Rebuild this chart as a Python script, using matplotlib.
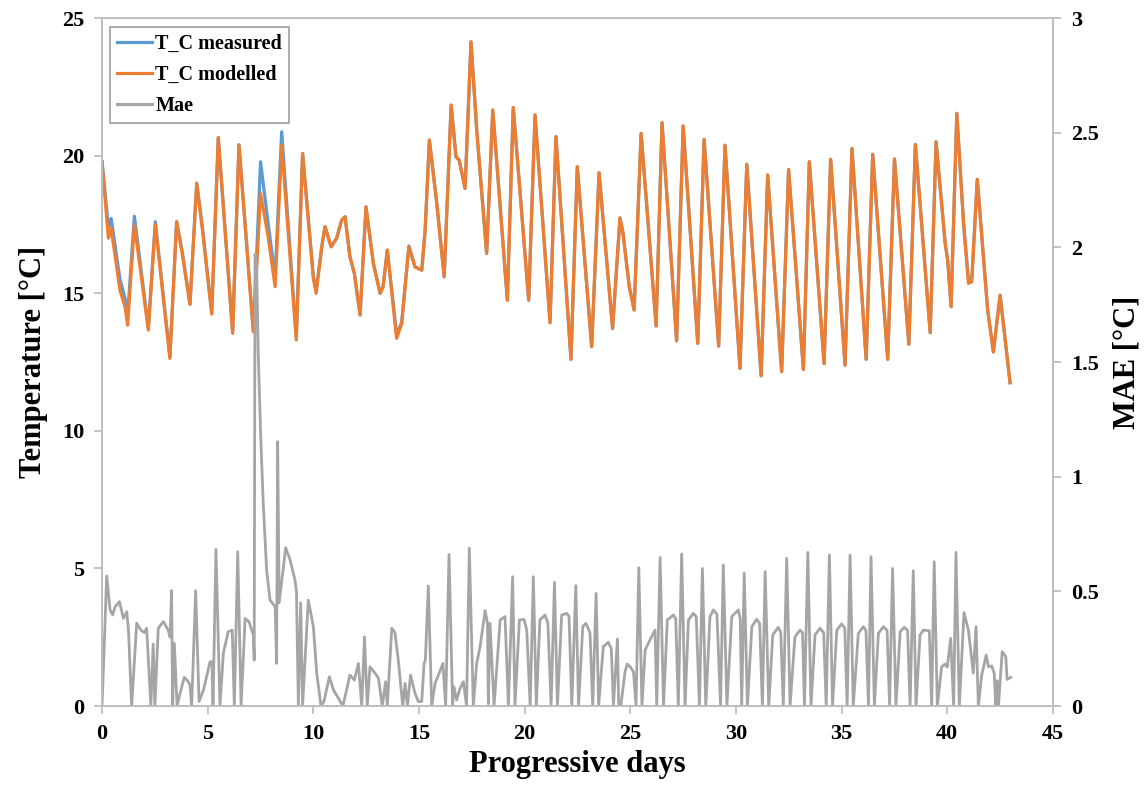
import numpy as np
import matplotlib
matplotlib.use("Agg")
import matplotlib.pyplot as plt

# temperature series (days, modelled, measured)
t_days = [0.00, 0.30, 0.43, 0.85, 1.09, 1.21, 1.53, 2.19, 2.52, 3.21,
          3.53, 3.80, 4.16, 4.48, 4.75, 5.19, 5.50, 6.18, 6.48, 7.16,
          7.50, 7.85, 8.19, 8.50, 9.19, 9.49, 10.00, 10.13, 10.40, 10.55,
          10.84, 11.10, 11.34, 11.50, 11.73, 11.94, 12.21, 12.49, 12.84, 13.16,
          13.30, 13.50, 13.94, 14.18, 14.52, 14.81, 15.13, 15.29, 15.49, 15.84,
          16.19, 16.52, 16.75, 16.90, 17.18, 17.46, 17.73, 18.20, 18.49, 19.18,
          19.46, 20.19, 20.49, 21.20, 21.48, 22.19, 22.49, 23.17, 23.52, 24.16,
          24.51, 24.65, 24.95, 25.18, 25.51, 26.22, 26.50, 27.19, 27.50, 28.19,
          28.49, 29.18, 29.48, 30.19, 30.51, 31.19, 31.50, 32.16, 32.49, 33.19,
          33.47, 34.17, 34.48, 35.16, 35.49, 36.16, 36.47, 37.18, 37.50, 38.18,
          38.49, 39.19, 39.47, 39.90, 40.02, 40.18, 40.45, 40.77, 41.00, 41.16,
          41.42, 41.71, 41.91, 42.18, 42.50, 42.97]
t_modelled = [19.78, 17.00, 17.36, 15.10, 14.50, 13.84, 17.50, 13.66, 17.50, 12.63,
              17.60, 16.40, 14.60, 19.00, 17.30, 14.24, 20.66, 13.54, 20.38, 13.60,
              18.63, 17.10, 15.24, 20.38, 13.30, 20.08, 15.54, 15.00, 16.70, 17.42,
              16.69, 17.00, 17.66, 17.78, 16.33, 15.72, 14.21, 18.14, 16.08, 15.00,
              15.24, 16.57, 13.36, 13.90, 16.69, 15.96, 15.84, 17.30, 20.57, 18.27,
              15.60, 21.84, 19.96, 19.84, 18.81, 24.14, 20.93, 16.45, 21.66, 14.75,
              21.75, 14.75, 21.48, 13.93, 20.69, 12.60, 19.60, 13.06, 19.38, 13.72,
              17.74, 17.20, 15.24, 14.39, 20.81, 13.81, 21.20, 13.27, 21.08, 13.18,
              20.59, 13.08, 20.38, 12.27, 19.69, 12.00, 19.30, 12.15, 19.50, 12.23,
              19.78, 12.44, 19.87, 12.39, 20.26, 12.60, 20.05, 12.60, 19.88, 13.15,
              20.41, 13.57, 20.50, 16.81, 16.20, 14.51, 21.54, 17.54, 15.36, 15.42,
              19.14, 16.33, 14.39, 12.87, 14.93, 11.75]
t_measured = [19.78, 17.40, 17.72, 15.50, 14.80, 14.20, 17.80, 13.75, 17.60, 12.70,
              17.60, 16.50, 14.60, 19.00, 17.40, 14.30, 20.66, 13.60, 20.40, 13.60,
              19.78, 17.60, 15.60, 20.87, 13.40, 20.08, 15.60, 15.10, 16.70, 17.42,
              16.69, 17.00, 17.66, 17.78, 16.33, 15.72, 14.21, 18.14, 16.08, 15.00,
              15.24, 16.57, 13.50, 13.95, 16.72, 15.96, 15.84, 17.30, 20.57, 18.27,
              15.60, 21.84, 19.96, 19.84, 18.81, 24.14, 20.93, 16.45, 21.66, 14.75,
              21.75, 14.75, 21.48, 13.93, 20.69, 12.60, 19.60, 13.06, 19.38, 13.72,
              17.74, 17.20, 15.24, 14.39, 20.81, 13.81, 21.20, 13.27, 21.08, 13.18,
              20.59, 13.08, 20.38, 12.27, 19.69, 12.00, 19.30, 12.15, 19.50, 12.23,
              19.78, 12.44, 19.87, 12.39, 20.26, 12.60, 20.05, 12.60, 19.88, 13.15,
              20.41, 13.57, 20.50, 16.81, 16.20, 14.51, 21.54, 17.54, 15.50, 15.55,
              19.14, 16.33, 14.39, 12.87, 14.93, 11.75]

# MAE series (days, value on right axis)
mae_days = [0.00, 0.22, 0.38, 0.50, 0.62, 0.82, 1.01, 1.17, 1.25, 1.40,
            1.64, 1.84, 2.00, 2.11, 2.31, 2.42, 2.50, 2.66, 2.90, 3.13,
            3.22, 3.29, 3.34, 3.42, 3.55, 3.69, 3.89, 4.05, 4.16, 4.24,
            4.43, 4.59, 4.80, 5.11, 5.20, 5.25, 5.39, 5.58, 5.74, 5.97,
            6.16, 6.26, 6.42, 6.58, 6.77, 6.95, 7.16, 7.20, 7.24, 7.32,
            7.39, 7.51, 7.63, 7.79, 7.95, 8.19, 8.26, 8.31, 8.38, 8.69,
            8.89, 9.13, 9.20, 9.29, 9.40, 9.49, 9.76, 10.00, 10.16, 10.36,
            10.50, 10.76, 10.95, 11.19, 11.40, 11.73, 11.94, 12.13, 12.29, 12.42,
            12.55, 12.68, 12.92, 13.08, 13.26, 13.42, 13.50, 13.71, 13.86, 14.02,
            14.23, 14.34, 14.45, 14.60, 14.81, 14.97, 15.13, 15.24, 15.30, 15.44,
            15.60, 15.76, 15.92, 16.13, 16.26, 16.42, 16.59, 16.65, 16.78, 16.94,
            17.10, 17.25, 17.38, 17.57, 17.73, 17.89, 18.13, 18.24, 18.28, 18.36,
            18.55, 18.84, 19.07, 19.23, 19.43, 19.54, 19.75, 19.97, 20.10, 20.26,
            20.41, 20.55, 20.72, 20.96, 21.10, 21.25, 21.41, 21.55, 21.75, 21.99,
            22.10, 22.23, 22.42, 22.55, 22.75, 22.90, 23.09, 23.22, 23.38, 23.50,
            23.72, 23.96, 24.10, 24.20, 24.39, 24.45, 24.55, 24.75, 24.85, 25.00,
            25.15, 25.27, 25.40, 25.55, 25.70, 25.93, 26.17, 26.25, 26.41, 26.57,
            26.75, 27.04, 27.15, 27.27, 27.43, 27.59, 27.75, 27.98, 28.12, 28.27,
            28.41, 28.57, 28.77, 28.93, 29.10, 29.27, 29.40, 29.57, 29.80, 30.11,
            30.20, 30.27, 30.39, 30.54, 30.75, 30.98, 31.12, 31.25, 31.38, 31.55,
            31.74, 32.00, 32.12, 32.24, 32.40, 32.56, 32.79, 33.03, 33.15, 33.24,
            33.40, 33.55, 33.74, 33.98, 34.15, 34.27, 34.42, 34.57, 34.77, 35.00,
            35.15, 35.26, 35.40, 35.55, 35.79, 36.03, 36.15, 36.27, 36.39, 36.55,
            36.74, 36.98, 37.15, 37.27, 37.41, 37.57, 37.77, 37.96, 38.12, 38.24,
            38.39, 38.52, 38.71, 38.87, 39.15, 39.26, 39.38, 39.53, 39.73, 39.89,
            40.00, 40.16, 40.30, 40.41, 40.57, 40.79, 41.00, 41.23, 41.36, 41.47,
            41.63, 41.84, 41.95, 42.10, 42.22, 42.30, 42.36, 42.42, 42.60, 42.77,
            42.83, 43.00]
mae = [0.000, 0.567, 0.419, 0.397, 0.433, 0.455, 0.382, 0.411, 0.331, 0.000,
       0.361, 0.331, 0.320, 0.339, 0.000, 0.270, 0.000, 0.339, 0.368, 0.331,
       0.300, 0.503, 0.000, 0.273, 0.000, 0.055, 0.125, 0.110, 0.092, 0.000,
       0.503, 0.020, 0.070, 0.193, 0.193, 0.000, 0.683, 0.000, 0.230, 0.324,
       0.331, 0.000, 0.673, 0.000, 0.382, 0.368, 0.310, 0.200, 1.970, 1.900,
       1.540, 1.170, 0.880, 0.590, 0.462, 0.433, 0.186, 1.153, 0.450, 0.690,
       0.640, 0.550, 0.500, 0.000, 0.450, 0.000, 0.462, 0.346, 0.143, 0.000,
       0.020, 0.128, 0.070, 0.033, 0.000, 0.135, 0.113, 0.186, 0.000, 0.302,
       0.000, 0.171, 0.143, 0.121, 0.000, 0.106, 0.000, 0.339, 0.320, 0.200,
       0.000, 0.099, 0.000, 0.135, 0.055, 0.019, 0.020, 0.186, 0.200, 0.523,
       0.000, 0.099, 0.135, 0.186, 0.000, 0.661, 0.000, 0.084, 0.026, 0.077,
       0.106, 0.000, 0.688, 0.000, 0.186, 0.259, 0.416, 0.361, 0.010, 0.361,
       0.000, 0.375, 0.390, 0.000, 0.564, 0.000, 0.375, 0.378, 0.330, 0.000,
       0.564, 0.000, 0.375, 0.397, 0.360, 0.000, 0.539, 0.000, 0.397, 0.404,
       0.390, 0.000, 0.525, 0.000, 0.346, 0.361, 0.320, 0.000, 0.491, 0.000,
       0.259, 0.278, 0.250, 0.000, 0.292, 0.000, 0.000, 0.150, 0.183, 0.170,
       0.150, 0.000, 0.603, 0.000, 0.244, 0.288, 0.331, 0.000, 0.648, 0.000,
       0.375, 0.397, 0.380, 0.000, 0.663, 0.000, 0.375, 0.404, 0.390, 0.000,
       0.600, 0.000, 0.390, 0.419, 0.400, 0.000, 0.615, 0.000, 0.390, 0.419,
       0.380, 0.000, 0.579, 0.000, 0.346, 0.378, 0.360, 0.000, 0.586, 0.000,
       0.310, 0.343, 0.320, 0.000, 0.644, 0.000, 0.302, 0.331, 0.320, 0.000,
       0.670, 0.000, 0.310, 0.339, 0.320, 0.000, 0.658, 0.000, 0.331, 0.358,
       0.340, 0.000, 0.658, 0.000, 0.317, 0.346, 0.330, 0.000, 0.651, 0.000,
       0.317, 0.346, 0.330, 0.000, 0.600, 0.000, 0.324, 0.343, 0.330, 0.000,
       0.590, 0.000, 0.310, 0.331, 0.328, 0.000, 0.629, 0.000, 0.171, 0.183,
       0.170, 0.295, 0.000, 0.670, 0.000, 0.407, 0.331, 0.143, 0.346, 0.000,
       0.135, 0.222, 0.171, 0.175, 0.143, 0.000, 0.110, 0.000, 0.237, 0.215,
       0.116, 0.125]

plt.rcParams['font.family'] = ['Liberation Serif', 'DejaVu Serif']
plt.rcParams['font.weight'] = 'bold'

spine_col = '#BFBFBF'

fig = plt.figure(figsize=(11.48, 7.87), dpi=100)
ax = fig.add_axes([0.0889, 0.1029, 0.8283, 0.8741])
ax2 = ax.twinx()

l1, = ax.plot(t_days, t_measured, color='#5B9BD5', lw=2.3, label='T_C measured')
l2, = ax.plot(t_days, t_modelled, color='#ED7D31', lw=2.3, label='T_C modelled')
l3, = ax2.plot(mae_days, mae, color='#A5A5A5', lw=2.0, label='Mae')

ax.set_xlim(0, 45)
ax.set_ylim(0, 25)
ax2.set_ylim(0, 3)
ax.set_xticks(np.arange(0, 46, 5))
ax.set_yticks(np.arange(0, 26, 5))
ax2.set_yticks(np.arange(0, 3.01, 0.5))
ax2.set_yticklabels(['0', '0.5', '1', '1.5', '2', '2.5', '3'])

for a in (ax, ax2):
    for s in a.spines.values():
        s.set_color(spine_col)
        s.set_linewidth(1.3)
    a.tick_params(direction='out', length=6, width=1.3, color=spine_col,
                  labelsize=16, pad=7)

ax.set_xlabel('Progressive days', fontsize=22, fontweight='bold', labelpad=4)
ax.set_ylabel('Temperature [°C]', fontsize=22, fontweight='bold', labelpad=10)
ax2.set_ylabel('MAE [°C]', fontsize=22, fontweight='bold', labelpad=10)

leg = ax2.legend(handles=[l1, l2, l3], loc='upper left',
                 bbox_to_anchor=(0.0084, 0.987), borderaxespad=0,
                 fancybox=False, framealpha=1, edgecolor='#A0A0A0',
                 prop={'size': 14.5, 'weight': 'bold'},
                 handlelength=1.75, handletextpad=0.15, labelspacing=0.55,
                 borderpad=0.35)
leg.get_frame().set_linewidth(1.2)
for h in leg.get_lines():
    h.set_linewidth(2.3)

fig.savefig('out.png', dpi=100)
